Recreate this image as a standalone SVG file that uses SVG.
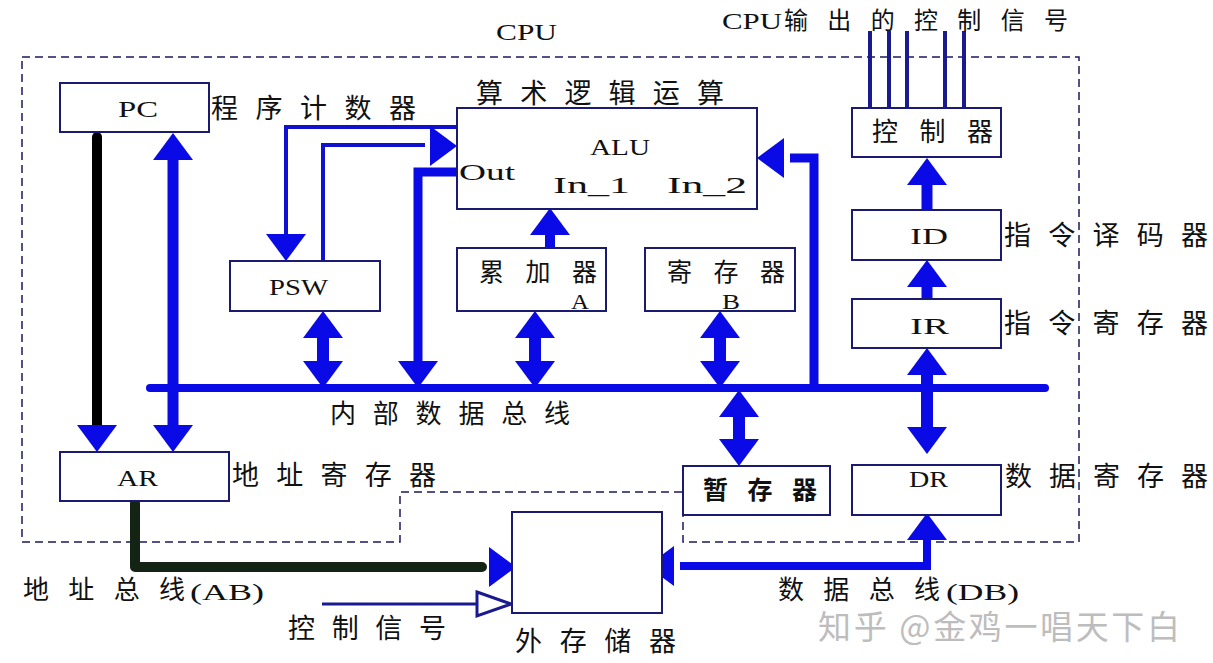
<svg xmlns="http://www.w3.org/2000/svg" width="1213" height="663" viewBox="0 0 1213 663">
<style>
.box{fill:#fff;stroke:#1a1a70;stroke-width:2}
.t{font-family:"Liberation Serif","Noto Sans CJK SC",serif;fill:#111}
.c{font-family:"Noto Sans CJK SC","Liberation Sans",sans-serif;fill:#111}
.b{stroke:#0a0ae6;fill:none}
.thin{stroke:#1010d0;fill:none;stroke-width:4}
.nav{stroke:#1a1a90;fill:none}
.dash{fill:none;stroke:#1a1a60;stroke-width:1.5;stroke-dasharray:8 5}
.wm{font-family:"Noto Sans CJK SC","Liberation Sans",sans-serif;fill:#bdbdbd}
</style>
<defs>
<path id="ah" d="M0,0 L20,27 L-20,27 Z" fill="#0a0ae6"/>
</defs>
<rect x="0" y="0" width="1213" height="663" fill="#fff"/>

<g id="cpu-boundary">
<path class="dash" d="M22,57 H1079 V542 H683 V492 H400 V542 H22 Z"/>
<text class="t" x="496" y="40" font-size="23" textLength="61" lengthAdjust="spacingAndGlyphs">CPU</text>
</g>

<g id="connectors">
<!-- internal data bus -->
<line class="b" x1="150" y1="388" x2="1045" y2="388" stroke-width="8" stroke-linecap="round"/>
<!-- PC -> AR black -->
<line x1="97" y1="137" x2="97" y2="430" stroke="#000" stroke-width="10" stroke-linecap="round"/>
<use href="#ah" transform="translate(97,452) rotate(180)"/>
<!-- PC <-> AR -->
<line class="b" x1="173" y1="150" x2="173" y2="435" stroke-width="11"/>
<use href="#ah" transform="translate(173,133)"/>
<use href="#ah" transform="translate(173,452) rotate(180)"/>
<!-- ALU -> PSW -->
<polyline class="thin" points="457,127 286,127 286,240"/>
<use href="#ah" transform="translate(286,261) rotate(180)"/>
<!-- PSW -> ALU -->
<polyline class="thin" points="323,261 323,145 425,145"/>
<use href="#ah" transform="translate(457,146) rotate(90)"/>
<!-- ALU Out -> bus -->
<polyline class="b" points="458,172 418,172 418,368" stroke-width="9"/>
<use href="#ah" transform="translate(418,388) rotate(180)"/>
<!-- PSW <-> bus -->
<line class="b" x1="323" y1="330" x2="323" y2="370" stroke-width="12"/>
<use href="#ah" transform="translate(323,311)"/>
<use href="#ah" transform="translate(323,388) rotate(180)"/>
<!-- A -> ALU In_1 -->
<line class="b" x1="550" y1="230" x2="550" y2="248" stroke-width="10"/>
<use href="#ah" transform="translate(550,208)"/>
<!-- A <-> bus -->
<line class="b" x1="535" y1="330" x2="535" y2="370" stroke-width="12"/>
<use href="#ah" transform="translate(535,311)"/>
<use href="#ah" transform="translate(535,388) rotate(180)"/>
<!-- B <-> bus -->
<line class="b" x1="720" y1="330" x2="720" y2="370" stroke-width="12"/>
<use href="#ah" transform="translate(720,311)"/>
<use href="#ah" transform="translate(720,388) rotate(180)"/>
<!-- bus -> ALU In_2 -->
<polyline class="b" points="814,388 814,158 790,158" stroke-width="9"/>
<use href="#ah" transform="translate(757,158) rotate(-90)"/>
<!-- bus <-> temp register -->
<line class="b" x1="739" y1="405" x2="739" y2="450" stroke-width="12"/>
<use href="#ah" transform="translate(739,390)"/>
<use href="#ah" transform="translate(739,466) rotate(180)"/>
<!-- IR <-> bus <-> DR -->
<line class="b" x1="927" y1="365" x2="927" y2="435" stroke-width="12"/>
<use href="#ah" transform="translate(927,348)"/>
<use href="#ah" transform="translate(927,454) rotate(180)"/>
<!-- IR -> ID -->
<line class="b" x1="927" y1="280" x2="927" y2="299" stroke-width="11"/>
<use href="#ah" transform="translate(927,260)"/>
<!-- ID -> controller -->
<line class="b" x1="927" y1="180" x2="927" y2="210" stroke-width="11"/>
<use href="#ah" transform="translate(927,158)"/>
<!-- controller outputs -->
<g class="nav" stroke-width="4">
<line x1="870" y1="31" x2="870" y2="108"/>
<line x1="889" y1="31" x2="889" y2="108"/>
<line x1="907" y1="31" x2="907" y2="108"/>
<line x1="945" y1="31" x2="945" y2="108"/>
<line x1="964" y1="31" x2="964" y2="108"/>
</g>
<!-- AR -> external memory (address bus) -->
<polyline points="135,503 135,567 482,567" fill="none" stroke="#142414" stroke-width="10" stroke-linecap="round" stroke-linejoin="round"/>
<use href="#ah" transform="translate(516,567) rotate(90)"/>
<!-- control signal -->
<line class="nav" x1="322" y1="604" x2="477" y2="604" stroke-width="3"/>
<polygon points="477,592 511,604 477,616" fill="#fff" stroke="#1a1a90" stroke-width="3"/>
<!-- data bus DB -->
<polyline class="b" points="680,566 927,566 927,535" stroke-width="8"/>
<use href="#ah" transform="translate(647,566) rotate(-90)"/>
<use href="#ah" transform="translate(927,513)"/>
</g>

<g id="pc">
<rect class="box" x="60" y="83" width="149" height="49"/>
<text class="t" x="118" y="117" font-size="24" textLength="40" lengthAdjust="spacingAndGlyphs">PC</text>
<text class="c" x="211" y="118" font-size="27" textLength="205" lengthAdjust="spacing">程序计数器</text>
</g>

<g id="alu">
<rect class="box" x="457" y="108" width="300" height="101"/>
<text class="c" x="476" y="103" font-size="27" textLength="248" lengthAdjust="spacing">算术逻辑运算</text>
<text class="t" x="590" y="155" font-size="24" textLength="60" lengthAdjust="spacingAndGlyphs">ALU</text>
<text class="t" x="459" y="180" font-size="24" textLength="56" lengthAdjust="spacingAndGlyphs">Out</text>
<text class="t" x="553" y="193" font-size="24" textLength="77" lengthAdjust="spacingAndGlyphs">In_1</text>
<text class="t" x="667" y="193" font-size="24" textLength="80" lengthAdjust="spacingAndGlyphs">In_2</text>
</g>

<g id="psw">
<rect class="box" x="230" y="261" width="150" height="50"/>
<text class="t" x="269" y="295" font-size="24" textLength="59" lengthAdjust="spacingAndGlyphs">PSW</text>
</g>

<g id="acc-a">
<rect class="box" x="457" y="248" width="149" height="63"/>
<text class="c" x="479" y="281" font-size="25" textLength="118" lengthAdjust="spacing">累加器</text>
<text class="t" x="571" y="309" font-size="22" textLength="18" lengthAdjust="spacingAndGlyphs">A</text>
</g>

<g id="reg-b">
<rect class="box" x="645" y="248" width="150" height="63"/>
<text class="c" x="667" y="281" font-size="25" textLength="118" lengthAdjust="spacing">寄存器</text>
<text class="t" x="722" y="309" font-size="22" textLength="18" lengthAdjust="spacingAndGlyphs">B</text>
</g>

<g id="controller">
<rect class="box" x="852" y="108" width="149" height="49"/>
<text class="c" x="872" y="141" font-size="26" textLength="121" lengthAdjust="spacing">控制器</text>
<text class="t" x="722" y="29" font-size="23" textLength="60" lengthAdjust="spacingAndGlyphs">CPU</text>
<text class="c" x="784" y="29" font-size="24" textLength="284" lengthAdjust="spacing">输出的控制信号</text>
</g>

<g id="id">
<rect class="box" x="852" y="210" width="149" height="50"/>
<text class="t" x="910" y="244" font-size="24" textLength="38" lengthAdjust="spacingAndGlyphs">ID</text>
<text class="c" x="1004" y="245" font-size="27" textLength="204" lengthAdjust="spacing">指令译码器</text>
</g>

<g id="ir">
<rect class="box" x="852" y="299" width="149" height="49"/>
<text class="t" x="910" y="334" font-size="24" textLength="39" lengthAdjust="spacingAndGlyphs">IR</text>
<text class="c" x="1004" y="333" font-size="27" textLength="204" lengthAdjust="spacing">指令寄存器</text>
</g>

<g id="bus-label">
<text class="c" x="330" y="423" font-size="26" textLength="240" lengthAdjust="spacing">内部数据总线</text>
</g>

<g id="ar">
<rect class="box" x="60" y="452" width="169" height="49"/>
<text class="t" x="117" y="486" font-size="24" textLength="41" lengthAdjust="spacingAndGlyphs">AR</text>
<text class="c" x="232" y="485" font-size="27" textLength="204" lengthAdjust="spacing">地址寄存器</text>
</g>

<g id="temp-reg">
<rect class="box" x="683" y="466" width="147" height="49"/>
<text class="c" x="703" y="499" font-size="25" font-weight="bold" textLength="114" lengthAdjust="spacing">暂存器</text>
</g>

<g id="dr">
<rect class="box" x="852" y="465" width="149" height="50"/>
<text class="t" x="909" y="487" font-size="24" textLength="39" lengthAdjust="spacingAndGlyphs">DR</text>
<text class="c" x="1005" y="486" font-size="27" textLength="203" lengthAdjust="spacing">数据寄存器</text>
</g>

<g id="ext-mem">
<rect class="box" x="512" y="512" width="150" height="101"/>
<text class="c" x="515" y="651" font-size="27" textLength="161" lengthAdjust="spacing">外存储器</text>
</g>

<g id="bus-labels">
<text class="c" x="23" y="599" font-size="26" textLength="162" lengthAdjust="spacing">地址总线</text>
<text class="t" x="190" y="600" font-size="24" textLength="74" lengthAdjust="spacingAndGlyphs">(AB)</text>
<text class="c" x="288" y="638" font-size="27" textLength="158" lengthAdjust="spacing">控制信号</text>
<text class="c" x="778" y="599" font-size="26" textLength="162" lengthAdjust="spacing">数据总线</text>
<text class="t" x="946" y="600" font-size="24" textLength="73" lengthAdjust="spacingAndGlyphs">(DB)</text>
</g>

<text class="wm" x="818" y="639" font-size="33" textLength="362" lengthAdjust="spacing">知乎 @金鸡一唱天下白</text>
</svg>
